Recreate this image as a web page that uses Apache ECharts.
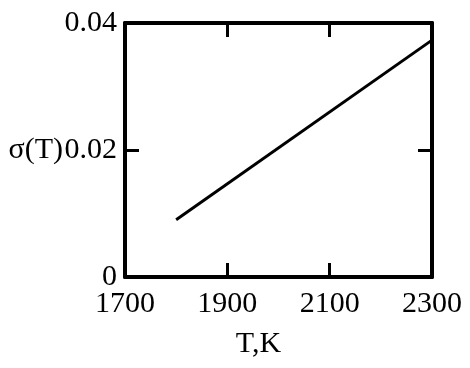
<!DOCTYPE html>
<html>
<head>
<meta charset="utf-8">
<script src="https://cdn.jsdelivr.net/npm/echarts@6/dist/echarts.min.js"></script>
<style>html,body{margin:0;padding:0;background:#fff}#c{width:470px;height:368px}</style>
</head>
<body>
<div id="c"></div>
<script>
var temperatureK = [1800, 2300];
var sigmaValues = [0.0090, 0.0373];
var xTicks = [1700, 1900, 2100, 2300];
var yTicks = [0, 0.02, 0.04];

var chart = echarts.init(document.getElementById('c'), null, {renderer: 'canvas'});
var font = 'Liberation Serif';
var data = temperatureK.map(function (t, i) { return [t, sigmaValues[i]]; });

function xAxisCfg(pos, showLabel) {
  return {
    type: 'value', position: pos, min: xTicks[0], max: xTicks[xTicks.length - 1], interval: xTicks[1] - xTicks[0],
    axisLine: {show: true, onZero: false, lineStyle: {color: '#000', width: 4}},
    axisTick: {show: true, inside: true, length: 14, lineStyle: {color: '#000', width: 3}},
    axisLabel: {show: showLabel, color: '#000', fontFamily: font, fontSize: 30, margin: 12,
      formatter: function (v) { return String(v); }},
    splitLine: {show: false}
  };
}
function yAxisCfg(pos, showLabel) {
  return {
    type: 'value', position: pos, min: yTicks[0], max: yTicks[yTicks.length - 1], interval: yTicks[1] - yTicks[0],
    axisLine: {show: true, onZero: false, lineStyle: {color: '#000', width: 4}},
    axisTick: {show: true, inside: true, length: 14, lineStyle: {color: '#000', width: 3}},
    axisLabel: {show: showLabel, color: '#000', fontFamily: font, fontSize: 30, margin: 8,
      formatter: function (v) { return v === 0 ? '0' : String(+v.toFixed(2)); }},
    splitLine: {show: false}
  };
}

var xBottom = xAxisCfg('bottom', true);
xBottom.name = 'T,K';
xBottom.nameLocation = 'middle';
xBottom.nameGap = 52;
xBottom.nameMoveOverlap = false;
xBottom.nameTextStyle = {color: '#000', fontFamily: font, fontSize: 30, padding: [0, 40, 0, 0]};
var xTop = xAxisCfg('top', false);

var yLeft = yAxisCfg('left', true);
yLeft.name = 'σ(T)';
yLeft.nameLocation = 'middle';
yLeft.nameRotate = 0;
yLeft.nameGap = 62;
yLeft.nameMoveOverlap = false;
yLeft.nameTextStyle = {color: '#000', fontFamily: font, fontSize: 30, align: 'right', verticalAlign: 'middle'};
var yRight = yAxisCfg('right', false);

chart.setOption({
  animation: false,
  backgroundColor: '#fff',
  grid: {left: 125, right: 38, top: 23, bottom: 91, containLabel: false, outerBoundsMode: 'none'},
  xAxis: [xBottom, xTop],
  yAxis: [yLeft, yRight],
  series: [{
    type: 'line', xAxisIndex: 0, yAxisIndex: 0, data: data,
    showSymbol: false, symbol: 'none',
    lineStyle: {color: '#000', width: 3}
  }]
});
</script>
</body>
</html>
